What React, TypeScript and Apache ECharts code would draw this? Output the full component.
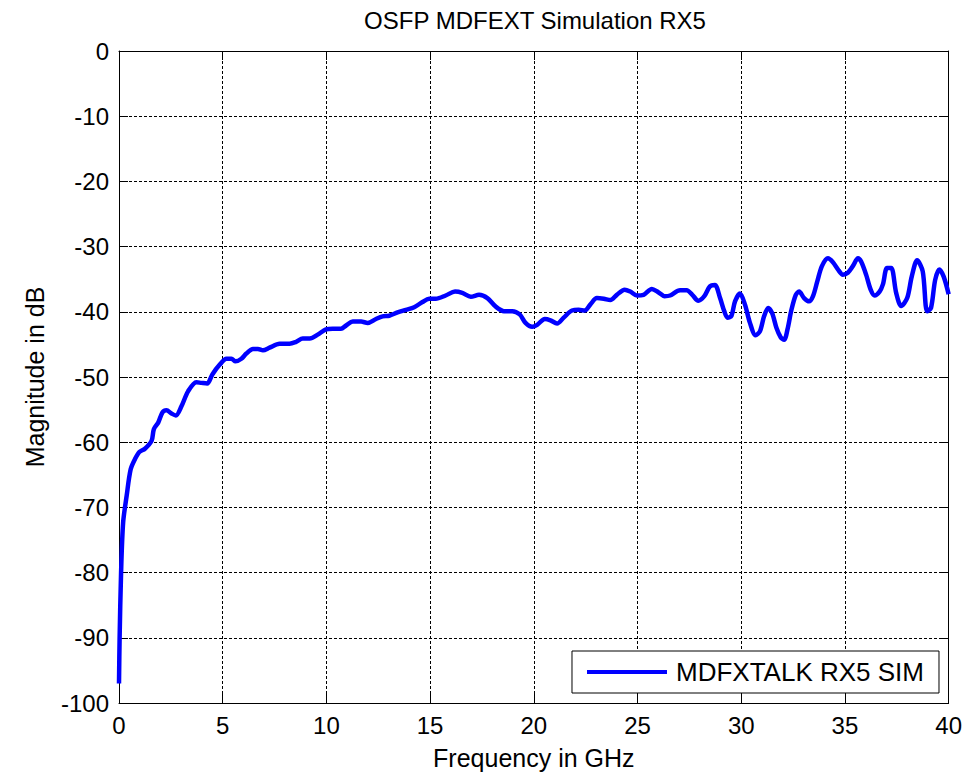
import React, { useEffect, useRef } from "react";
import * as echarts from "echarts";

const FONT = "'Liberation Sans', Arial, Helvetica, sans-serif";

const TITLE = "OSFP MDFEXT Simulation RX5";
const X_NAME = "Frequency in GHz";
const Y_NAME = "Magnitude in dB";
const SERIES_NAME = "MDFXTALK RX5 SIM";

const freqGHz: number[] = [
  0, 0.03, 0.1, 0.2, 0.37, 0.56, 0.77, 0.98, 1.25, 1.57, 1.68, 1.89, 2.1, 2.29,
  2.53, 2.74, 3.01, 3.33, 3.73, 3.97, 4.25, 4.5, 4.86, 5.18, 5.42, 5.62, 5.9,
  6.14, 6.46, 6.7, 6.94, 7.26, 7.74, 8.22, 8.54, 8.86, 9.2, 9.58, 9.98, 10.3,
  10.7, 10.95, 11.27, 11.67, 11.99, 12.39, 12.71, 13.03, 13.43, 13.83, 14.23,
  14.63, 14.95, 15.27, 15.75, 16.2, 16.55, 16.96, 17.36, 17.76, 18.16, 18.56,
  18.96, 19.32, 19.6, 19.92, 20.16, 20.53, 20.8, 21.12, 21.44, 21.84, 22.16,
  22.45, 22.72, 23.04, 23.37, 23.69, 24.0, 24.38, 24.65, 24.97, 25.29, 25.69,
  26.0, 26.3, 26.57, 27.05, 27.37, 27.64, 27.93, 28.22, 28.49, 28.73, 28.98,
  29.18, 29.34, 29.53, 29.7, 29.94, 30.18, 30.42, 30.69, 30.9, 31.1, 31.3,
  31.49, 31.7, 31.9, 32.07, 32.23, 32.42, 32.63, 32.79, 33.03, 33.27, 33.46,
  33.67, 33.89, 34.18, 34.42, 34.66, 34.9, 35.14, 35.38, 35.63, 35.78, 36.02,
  36.24, 36.43, 36.67, 36.83, 37.03, 37.23, 37.47, 37.71, 38.0, 38.22, 38.48,
  38.75, 38.96, 39.15, 39.35, 39.55, 39.76, 40.0,
];

const magnitudeDb: number[] = [
  -97, -90, -80, -72.3, -68.2, -64.2, -62.6, -61.5, -61, -59.8, -58, -57, -55.4,
  -55.1, -55.6, -55.9, -54.5, -52.2, -50.8, -50.9, -51.0, -49.6, -48.1, -47.2,
  -47.2, -47.6, -47.2, -46.4, -45.7, -45.7, -45.9, -45.5, -44.9, -44.9, -44.6,
  -44.1, -44.1, -43.5, -42.7, -42.6, -42.6, -42.1, -41.5, -41.5, -41.7, -41.1,
  -40.7, -40.6, -40.1, -39.7, -39.3, -38.5, -38.0, -38.0, -37.5, -36.9, -37.1,
  -37.7, -37.4, -37.9, -39.2, -39.9, -39.9, -40.4, -41.7, -42.3, -42.0, -41.1,
  -41.3, -41.8, -40.9, -39.8, -39.7, -39.8, -38.9, -37.9, -38.0, -38.2, -37.4,
  -36.6, -36.9, -37.5, -37.4, -36.5, -37.0, -37.6, -37.5, -36.7, -36.7, -37.4,
  -38.3, -37.6, -36.1, -35.9, -37.9, -39.9, -40.9, -40.6, -38.4, -37.2, -38.9,
  -41.7, -43.6, -43.0, -40.7, -39.4, -40.2, -42.5, -43.9, -44.3, -42.7, -39.7,
  -37.4, -36.9, -37.9, -38.4, -37.6, -35.3, -33.0, -31.8, -32.4, -33.5, -34.3,
  -34.0, -33.0, -31.8, -32.3, -34.3, -36.6, -37.5, -36.9, -35.8, -33.3, -33.3,
  -37.1, -39.1, -37.9, -34.6, -32.1, -33.8, -39.9, -39.4, -35.1, -33.5, -34.6,
  -37.3,
];

const X_MIN = 0;
const X_MAX = 40;
const X_STEP = 5;
const Y_MIN = -100;
const Y_MAX = 0;
const Y_STEP = 10;

export default function App() {
  const ref = useRef<HTMLDivElement>(null);

  useEffect(() => {
    if (!ref.current) return;
    const chart = echarts.init(ref.current, undefined, { renderer: "svg" });
    const data = freqGHz.map((f, i) => [f, magnitudeDb[i]]);
    const tickStyle = { color: "#000", width: 1 };

    chart.setOption({
      animation: false,
      backgroundColor: "#fff",
      title: {
        text: TITLE,
        left: 530,
        top: 3,
        textAlign: "center",
        textStyle: {
          fontFamily: FONT,
          fontSize: 24,
          fontWeight: "normal",
          color: "#000",
        },
      },
      grid: { left: 119, right: 14, top: 51, bottom: 71, containLabel: false },
      legend: {
        right: 26,
        bottom: 82,
        backgroundColor: "#fff",
        borderColor: "#000",
        borderWidth: 1,
        borderRadius: 0,
        padding: [8, 15, 8, 15],
        icon: "rect",
        itemWidth: 80,
        itemHeight: 4,
        textStyle: {
          fontFamily: FONT,
          fontSize: 26,
          color: "#000",
          padding: [0, 0, 0, 4],
        },
        data: [SERIES_NAME],
      },
      xAxis: [
        {
          type: "value",
          position: "bottom",
          min: X_MIN,
          max: X_MAX,
          interval: X_STEP,
          name: X_NAME,
          nameLocation: "middle",
          nameGap: 42,
          nameTextStyle: { fontFamily: FONT, fontSize: 25, color: "#000" },
          axisLine: { show: true, onZero: false, lineStyle: tickStyle },
          axisTick: { show: true, inside: true, length: 9, lineStyle: tickStyle },
          axisLabel: { fontFamily: FONT, fontSize: 24, color: "#000", margin: 10 },
          splitLine: {
            show: true,
            lineStyle: { color: "#000", width: 1, type: [3, 2] },
          },
        },
        {
          type: "value",
          position: "top",
          min: X_MIN,
          max: X_MAX,
          interval: X_STEP,
          axisLine: { show: true, onZero: false, lineStyle: tickStyle },
          axisTick: { show: true, inside: true, length: 9, lineStyle: tickStyle },
          axisLabel: { show: false },
          splitLine: { show: false },
        },
      ],
      yAxis: [
        {
          type: "value",
          position: "left",
          min: Y_MIN,
          max: Y_MAX,
          interval: Y_STEP,
          name: Y_NAME,
          nameLocation: "middle",
          nameGap: 72,
          nameRotate: 90,
          nameTextStyle: { fontFamily: FONT, fontSize: 25, color: "#000" },
          axisLine: { show: true, onZero: false, lineStyle: tickStyle },
          axisTick: { show: true, inside: true, length: 9, lineStyle: tickStyle },
          axisLabel: { fontFamily: FONT, fontSize: 24, color: "#000", margin: 10 },
          splitLine: {
            show: true,
            lineStyle: { color: "#000", width: 1, type: [3, 2] },
          },
        },
        {
          type: "value",
          position: "right",
          min: Y_MIN,
          max: Y_MAX,
          interval: Y_STEP,
          axisLine: { show: true, onZero: false, lineStyle: tickStyle },
          axisTick: { show: true, inside: true, length: 9, lineStyle: tickStyle },
          axisLabel: { show: false },
          splitLine: { show: false },
        },
      ],
      series: [
        {
          name: SERIES_NAME,
          type: "line",
          xAxisIndex: 0,
          yAxisIndex: 0,
          data,
          symbol: "none",
          smooth: 0.3,
          lineStyle: { color: "#0000ff", width: 4.5 },
          itemStyle: { color: "#0000ff" },
        },
      ],
    });

    return () => chart.dispose();
  }, []);

  return (
    <div
      ref={ref}
      style={{ position: "fixed", left: 0, top: 0, width: 965, height: 775 }}
    />
  );
}
